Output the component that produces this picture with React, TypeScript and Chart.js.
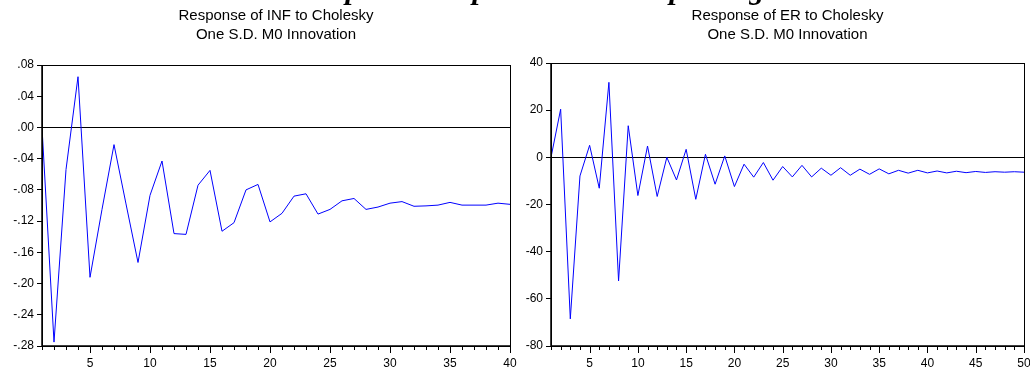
import React, { useEffect, useRef } from "react";
import { Chart, registerables } from "chart.js";

Chart.register(...registerables);

// ---- Data ----
const INF_RESPONSE = [
  0, -0.275, -0.054, 0.065, -0.192, -0.105, -0.022, -0.098, -0.173, -0.087,
  -0.043, -0.136, -0.137, -0.074, -0.055, -0.133, -0.122, -0.08, -0.073, -0.121,
  -0.11, -0.088, -0.085, -0.111, -0.105, -0.094, -0.091, -0.105, -0.102, -0.097,
  -0.095, -0.101, -0.1005, -0.0995, -0.096, -0.0995, -0.0995, -0.0995, -0.097, -0.0985,
];
const ER_RESPONSE = [
  0, 20.4, -68.5, -7.9, 5.1, -13.1, 31.8, -52.4, 13.4, -16.2,
  4.8, -16.6, 0, -9.6, 3.4, -17.8, 1.3, -11.4, 0.6, -12.4,
  -2.9, -8.4, -2.2, -9.7, -3.9, -8.3, -3.4, -8.3, -4.6, -7.6,
  -4.4, -7.6, -5.0, -7.2, -4.9, -7.0, -5.5, -6.7, -5.5, -6.6,
  -5.8, -6.6, -5.9, -6.5, -6.0, -6.4, -6.1, -6.3, -6.1, -6.3,
];
const INF_TITLE = ["Response of INF to Cholesky", "One S.D. M0 Innovation"];
const ER_TITLE = ["Response of ER to Cholesky", "One S.D. M0 Innovation"];
const INF_Y_RANGE = [-0.28, 0.08, 0.04];
const ER_Y_RANGE = [-80, 40, 20];
const INF_X_MAX = 40;
const ER_X_MAX = 50;
// descenders of the cropped heading above the charts
const HEADING_LEFT = [
  { ch: "p", x: 353 },
  { ch: "p", x: 480 },
];
const HEADING_RIGHT = [
  { ch: "p", x: 162 },
  { ch: "g", x: 242 },
];

const fmtInf = (v: number) => {
  const s = Math.abs(v).toFixed(2).replace(/^0/, "");
  return (v < -1e-9 ? "-" : "") + s;
};
const fmtEr = (v: number) => String(Math.round(v));

type PanelProps = {
  values: number[];
  xMax: number;
  yRange: number[];
  title: string[];
  fmt: (v: number) => string;
  yWidth: number;
  padTop: number;
  padRight: number;
  heading: { ch: string; x: number }[];
  left: number;
  width: number;
};

function Panel(p: PanelProps) {
  const ref = useRef<HTMLCanvasElement | null>(null);
  useEffect(() => {
    if (!ref.current) return;
    const data = p.values.map((v, i) => ({ x: i + 1, y: v }));
    const deco = {
      id: "deco",
      beforeDatasetsDraw(chart: any) {
        const { ctx, chartArea: ca, scales } = chart;
        const y0 = scales.y.getPixelForValue(0);
        ctx.save();
        ctx.strokeStyle = "#000";
        ctx.lineWidth = 1;
        ctx.beginPath();
        ctx.moveTo(ca.left, Math.round(y0) + 0.5);
        ctx.lineTo(ca.right, Math.round(y0) + 0.5);
        ctx.stroke();
        ctx.restore();
      },
      afterDraw(chart: any) {
        const { ctx, chartArea: ca, scales } = chart;
        ctx.save();
        // frame
        ctx.strokeStyle = "#000";
        ctx.lineWidth = 1;
        ctx.strokeRect(Math.round(ca.left) + 0.5, Math.round(ca.top) + 0.5,
          Math.round(ca.right - ca.left), Math.round(ca.bottom - ca.top));
        ctx.lineWidth = 1.5;
        ctx.beginPath();
        ctx.moveTo(ca.left, ca.top);
        ctx.lineTo(ca.left, ca.bottom);
        ctx.lineTo(ca.right, ca.bottom);
        ctx.stroke();
        // x tick marks
        ctx.lineWidth = 1;
        const xs = scales.x;
        for (let v = xs.min; v <= xs.max; v++) {
          const px = Math.round(xs.getPixelForValue(v)) + 0.5;
          const len = v % 5 === 0 ? 7 : 4;
          ctx.beginPath();
          ctx.moveTo(px, ca.bottom);
          ctx.lineTo(px, ca.bottom + len);
          ctx.stroke();
        }
        // titles
        ctx.fillStyle = "#000";
        ctx.font = '15px "Liberation Sans", Arial, sans-serif';
        ctx.textAlign = "center";
        ctx.textBaseline = "middle";
        const cx = (ca.left + ca.right) / 2;
        ctx.fillText(p.title[0], cx, 16);
        ctx.fillText(p.title[1], cx, 35);
        // heading fragments
        ctx.font = 'italic bold 30px "Liberation Serif", serif';
        ctx.textBaseline = "alphabetic";
        p.heading.forEach((h) => ctx.fillText(h.ch, h.x, -1));
        ctx.restore();
      },
    };
    const chart = new Chart(ref.current, {
      type: "line",
      data: {
        datasets: [
          {
            data,
            borderColor: "#0000ff",
            borderWidth: 1,
            pointRadius: 0,
            tension: 0,
            fill: false,
          },
        ],
      },
      options: {
        animation: false,
        responsive: false,
        maintainAspectRatio: false,
        layout: { padding: { left: 0, right: p.padRight, top: p.padTop, bottom: 0 } },
        plugins: { legend: { display: false }, tooltip: { enabled: false } },
        scales: {
          x: {
            type: "linear",
            min: 1,
            max: p.xMax,
            grid: { display: false, drawTicks: false },
            border: { display: false },
            afterFit: (s: any) => {
              s.height = 21;
              s.paddingLeft = 0;
              s.paddingRight = 0;
            },
            ticks: {
              stepSize: 1,
              autoSkip: false,
              maxRotation: 0,
              padding: 10,
              color: "#000",
              font: { family: '"Liberation Sans", Arial, sans-serif', size: 12 },
              callback: (v: any) => (Number(v) % 5 === 0 ? String(v) : ""),
            },
          },
          y: {
            type: "linear",
            min: p.yRange[0],
            max: p.yRange[1],
            grid: {
              display: true,
              drawOnChartArea: false,
              drawTicks: true,
              tickLength: 5,
              color: "#000",
            },
            border: { display: false },
            afterFit: (s: any) => {
              s.width = p.yWidth;
              s.paddingTop = 0;
              s.paddingBottom = 0;
            },
            ticks: {
              stepSize: p.yRange[2],
              padding: 3,
              color: "#000",
              font: { family: '"Liberation Sans", Arial, sans-serif', size: 12 },
              callback: (v: any) => p.fmt(Number(v)),
            },
          },
        },
      },
      plugins: [deco],
    });
    return () => chart.destroy();
  }, []);
  return (
    <div style={{ position: "absolute", left: p.left, top: 0, width: p.width, height: 367 }}>
      <canvas ref={ref} width={p.width} height={367} style={{ width: p.width, height: 367 }} />
    </div>
  );
}

export default function App() {
  return (
    <div
      style={{
        position: "absolute",
        left: 0,
        top: 0,
        width: 1030,
        height: 367,
        background: "#fff",
        overflow: "hidden",
      }}
    >
      <Panel
        values={INF_RESPONSE}
        xMax={INF_X_MAX}
        yRange={INF_Y_RANGE}
        title={INF_TITLE}
        fmt={fmtInf}
        yWidth={42}
        padTop={65}
        padRight={20}
        heading={HEADING_LEFT}
        left={0}
        width={530}
      />
      <Panel
        values={ER_RESPONSE}
        xMax={ER_X_MAX}
        yRange={ER_Y_RANGE}
        title={ER_TITLE}
        fmt={fmtEr}
        yWidth={36}
        padTop={63}
        padRight={6}
        heading={HEADING_RIGHT}
        left={515}
        width={515}
      />
    </div>
  );
}
